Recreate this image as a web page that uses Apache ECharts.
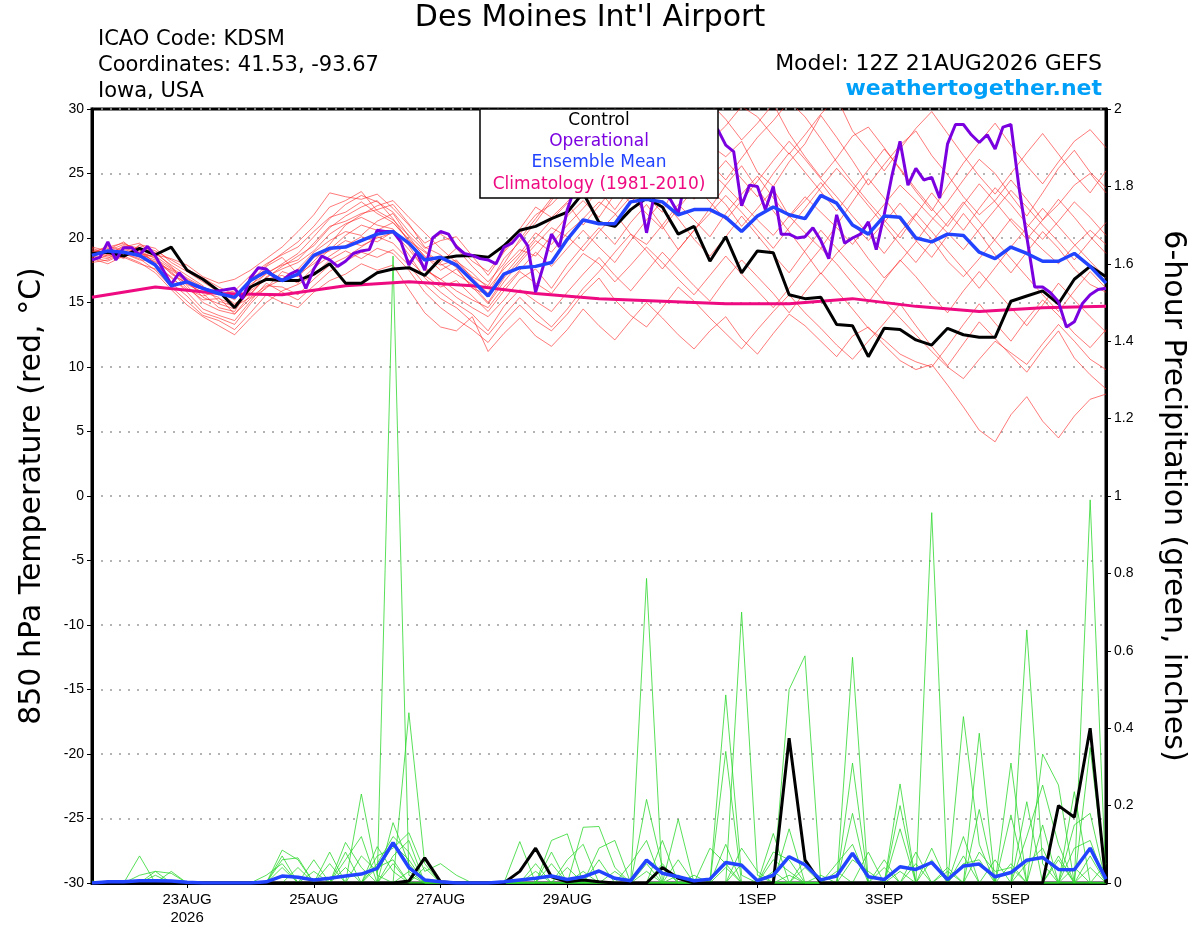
<!DOCTYPE html>
<html>
<head>
<meta charset="utf-8">
<script src="https://cdn.jsdelivr.net/npm/echarts@6/dist/echarts.min.js"></script>
<style>
html,body{margin:0;padding:0;background:#fff;}
#chart{width:1200px;height:927px;}
</style>
</head>
<body>
<div id="chart"></div>
<script>
// ---------------- DATA ----------------
const STEP_MEMBER_H = 6;   // ensemble / control / mean step (hours)
const STEP_OPER_H = 3;     // operational step (hours)
const STEP_CLIMO_H = 24;   // climatology step (hours)

const TICK_HOURS = [36, 84, 132, 180, 252, 300, 348];
const TICK_LABELS = ['23AUG\n2026', '25AUG', '27AUG', '29AUG', '1SEP', '3SEP', '5SEP'];

// 850 hPa temperature, control (deg C), every 6 h
const controlT = [18.8,18.9,18.6,19.2,18.7,19.3,17.5,16.8,15.9,14.6,
  16.2,16.8,16.7,16.7,17.2,18.0,16.5,16.5,17.3,17.6,
  17.7,17.1,18.4,18.6,18.65,18.5,19.4,20.6,20.9,21.5,
  22.0,23.5,21.2,20.9,22.2,23.1,22.4,20.3,20.9,18.2,
  20.1,17.3,19.0,18.85,15.6,15.3,15.4,13.3,13.2,10.8,
  13.0,12.9,12.1,11.7,13.0,12.5,12.3,12.3,15.1,15.5,
  15.9,14.9,16.8,17.8,17.0];

// ensemble mean temperature
const meanT = [18.65,19.0,18.9,18.65,17.9,16.3,16.6,16.1,15.7,15.4,
  16.7,17.4,16.7,17.2,18.65,19.2,19.3,19.8,20.3,20.5,
  19.6,18.3,18.5,17.9,16.7,15.5,17.2,17.7,17.8,18.1,
  19.9,21.4,21.1,21.1,22.8,23.0,22.8,21.8,22.2,22.2,
  21.6,20.5,21.7,22.4,21.8,21.5,23.3,22.7,21.0,20.3,
  21.7,21.6,20.0,19.7,20.3,20.2,18.9,18.4,19.3,18.8,
  18.2,18.2,18.8,17.8,16.5];

// operational temperature, every 3 h
const operT = [18.3,18.5,19.7,18.3,19.25,19.25,18.7,19.35,18.6,17.5,
  16.4,17.3,16.6,16.3,16.1,15.9,15.9,16.0,16.1,15.3,
  16.9,17.7,17.6,17.0,16.7,17.2,17.5,16.1,17.6,18.6,
  18.3,17.8,18.2,18.8,19.0,19.1,20.6,20.5,20.5,19.7,
  17.9,18.9,17.5,20.0,20.5,20.3,19.3,18.8,18.65,18.4,
  18.3,18.0,19.3,19.6,20.3,19.4,15.8,17.9,20.3,19.3,
  22.2,24.0,25.0,24.5,24.0,25.2,24.3,23.8,23.1,23.8,
  20.4,23.4,23.5,23.0,21.9,24.8,26.0,27.5,28.9,28.4,
  27.2,26.7,22.5,24.1,24.0,22.2,24.0,20.3,20.3,20.0,
  20.1,20.8,19.8,18.4,21.8,19.6,20.0,20.3,21.25,19.1,
  21.8,24.9,27.5,24.1,25.4,24.5,24.7,23.1,27.3,28.8,
  28.8,28.0,27.4,28.0,26.9,28.6,28.8,24.0,20.1,16.2,
  16.2,15.75,15.05,13.1,13.5,14.9,15.6,16.0,16.1];

// climatology (1981-2010), daily
const climoT = [15.4,16.2,15.7,15.6,16.3,16.6,16.3,15.7,15.3,15.1,14.9,14.9,15.3,14.7,14.3,14.6,14.7];

// ensemble members, temperature
const memT01 = [18.9,19.3,19.6,19.0,18.4,17.6,16.8,16.1,15.8,15.5,16.4,17.2,18.0,18.8,20.1,21.5,22.6,23.3,22.8,22.0,20.5,19.2,19.8,20.1,18.6,17.1,18.9,20.3,21.8,22.6,23.9,25.2,26.1,27.4,26.5,28.1,29.3,28.0,29.6,27.2,26.3,27.5,25.1,24.0,25.9,27.3,29.5,27.8,26.0,24.1,25.7,27.2,28.3,26.4,24.9,23.2,21.8,22.9,24.5,23.0,21.4,22.6,24.1,25.0,23.5];
const memT02 = [18.5,18.2,18.8,18.4,17.5,16.2,15.1,14.0,13.6,12.9,14.2,15.6,15.0,14.6,15.8,16.7,17.2,18.0,17.5,17.9,16.0,14.2,13.1,12.8,13.9,11.2,12.6,13.8,12.4,11.6,12.9,14.5,13.2,12.1,13.6,15.0,13.8,12.5,11.4,12.8,13.9,12.2,11.0,12.6,14.1,13.2,12.0,10.8,12.4,13.1,11.7,10.5,9.8,10.2,8.6,6.9,5.1,4.2,6.3,7.7,5.8,4.5,6.2,7.5,7.9];
const memT03 = [19.1,18.7,19.4,19.1,18.0,16.9,16.0,15.5,15.9,15.2,16.9,17.5,16.8,17.6,18.9,19.8,20.5,20.2,21.3,21.9,20.1,18.5,17.9,18.3,16.9,15.7,17.8,19.1,18.6,20.2,21.7,22.9,21.6,23.4,24.8,23.2,22.0,24.5,25.7,23.8,22.6,20.9,22.3,23.8,21.7,20.4,19.2,21.0,22.8,24.6,23.1,21.4,19.8,18.5,20.2,21.9,20.4,18.7,17.3,18.9,20.5,19.2,17.6,16.4,15.8];
const memT04 = [18.3,18.9,18.4,19.5,19.2,18.1,17.4,16.6,15.8,14.9,15.7,16.9,17.8,18.6,19.4,20.8,21.7,22.4,22.9,21.5,19.7,17.8,16.5,15.4,14.6,13.9,15.2,16.8,17.6,16.1,17.9,19.4,20.8,19.5,21.2,22.6,20.9,19.1,20.6,22.3,24.1,25.6,23.8,22.1,20.5,18.9,17.2,18.8,20.1,18.4,16.9,18.2,19.7,21.4,22.8,24.5,26.1,25.0,23.3,21.7,23.5,25.4,26.8,25.1,23.9];
const memT05 = [18.7,19.2,18.9,18.6,18.9,17.8,16.3,15.0,14.4,14.1,15.3,16.1,17.4,17.0,18.2,19.5,21.0,21.8,22.5,22.9,21.6,20.4,19.2,18.1,17.0,16.3,18.4,19.7,21.2,22.9,24.6,23.1,25.0,26.8,28.5,27.1,25.4,26.9,28.8,30.5,29.2,27.6,28.9,30.4,28.1,26.3,24.7,26.2,27.9,28.6,27.0,25.3,23.6,22.1,24.0,25.8,27.4,28.9,27.2,25.6,24.2,25.9,27.5,28.4,27.0];
const memT06 = [18.4,18.0,18.6,18.1,17.3,16.0,14.8,13.9,13.2,12.5,13.8,15.0,15.9,16.4,17.1,18.3,19.0,18.4,19.2,18.8,17.5,15.8,14.6,13.7,12.9,11.9,13.5,14.8,13.6,12.8,14.1,15.7,16.9,15.2,14.0,13.1,14.6,16.2,15.1,13.8,12.6,11.4,12.9,14.3,15.6,14.2,13.0,11.7,10.6,12.0,13.4,14.9,13.2,11.6,10.1,11.8,13.5,12.2,10.9,9.6,11.3,12.8,10.7,9.4,8.3];
const memT07 = [19.0,18.6,19.1,18.8,18.5,17.2,16.5,15.7,14.6,14.3,16.2,17.8,18.5,17.2,18.0,19.1,20.2,21.0,20.6,21.2,19.8,18.9,18.0,17.2,16.4,15.0,16.9,18.3,19.8,18.9,20.4,21.5,22.8,21.9,20.3,19.5,21.0,22.6,21.4,20.1,21.9,23.4,24.8,23.1,21.6,22.9,24.3,22.7,21.1,19.8,21.2,22.7,21.3,19.9,18.2,17.0,18.4,19.9,21.5,20.3,19.1,18.0,19.4,20.6,19.5];
const memT08 = [18.8,19.4,19.0,18.5,18.7,18.4,17.9,17.0,16.5,16.8,17.5,18.4,19.3,20.5,21.8,23.5,23.2,23.0,23.4,22.3,21.0,19.6,20.3,19.5,18.2,17.4,19.0,20.7,22.4,21.6,22.8,24.3,23.5,25.1,26.7,25.5,27.2,28.6,27.0,25.8,24.5,26.2,27.8,29.1,30.6,29.4,27.7,25.9,24.3,22.8,21.4,20.0,21.8,23.5,22.0,20.6,22.3,23.9,22.6,21.1,19.9,21.3,22.8,21.6,20.2];
const memT09 = [18.6,18.4,19.2,18.9,18.1,17.5,16.7,15.4,14.9,14.5,15.9,16.8,17.1,16.5,17.7,18.6,19.4,20.1,19.7,20.5,19.1,17.6,16.8,15.9,15.2,14.6,16.2,17.5,18.9,17.8,19.2,20.6,19.3,18.1,19.8,21.4,22.9,21.5,19.9,18.6,20.1,21.7,20.2,18.7,17.3,19.0,20.6,19.2,17.8,16.5,15.1,13.8,12.5,11.2,10.0,9.1,10.6,12.0,11.1,10.2,11.8,13.3,12.0,10.6,9.8];
const memT10 = [19.3,19.0,19.5,19.2,18.8,17.9,17.1,16.3,15.1,14.7,15.4,16.3,16.2,15.6,16.8,17.9,18.5,19.3,20.1,19.6,18.3,17.1,16.2,16.7,15.5,14.3,15.9,17.4,16.5,15.7,17.3,18.8,18.0,16.6,17.9,19.3,18.1,16.8,15.6,17.1,18.6,17.2,15.9,14.6,16.1,17.7,19.2,18.0,16.5,15.0,16.7,18.3,17.0,15.5,14.2,15.9,17.4,16.0,14.6,13.2,14.8,16.5,15.2,13.9,12.7];
const memT11 = [18.9,18.5,18.7,19.4,19.0,18.3,17.6,16.9,16.2,15.6,16.6,17.9,18.8,19.7,20.9,22.4,22.9,23.6,22.1,21.4,20.2,19.0,18.1,19.2,17.8,16.6,18.0,19.9,21.5,23.1,25.8,27.4,29.0,30.6,29.3,27.6,28.9,30.8,29.1,27.5,28.7,30.2,29.4,27.9,26.5,28.0,29.6,30.9,28.3,26.8,25.2,26.9,28.5,29.8,28.1,26.4,24.8,23.4,25.0,26.6,28.1,26.5,24.9,23.5,25.2];
const memT12 = [18.2,18.7,18.5,18.0,17.6,16.5,15.5,14.2,13.8,13.3,14.9,16.2,16.8,17.5,18.5,19.0,19.8,19.4,20.0,20.4,18.7,16.9,15.8,14.9,14.1,12.8,14.7,16.0,15.1,14.3,15.8,17.2,18.5,17.1,15.9,17.4,18.9,17.6,16.3,15.1,16.8,18.3,17.0,15.7,14.2,15.8,17.3,15.9,14.5,13.0,12.1,11.0,10.4,10.0,11.6,13.3,14.9,13.4,12.0,13.7,15.2,14.0,12.6,11.5,12.9];
const memT13 = [18.5,19.1,19.7,18.7,18.3,17.4,16.1,15.2,15.3,14.8,16.0,17.3,17.9,18.3,19.6,20.9,21.3,21.9,22.2,22.6,21.1,19.3,18.7,17.7,16.1,15.6,17.1,18.6,20.0,21.4,22.7,21.0,22.5,24.0,22.7,24.2,25.9,24.4,23.0,24.6,26.0,24.6,23.2,25.0,26.6,25.1,23.6,22.1,23.7,25.3,26.9,25.4,23.8,22.3,20.9,22.6,24.2,22.8,21.3,19.9,21.4,23.0,21.6,20.1,18.8];
const memT14 = [18.1,18.3,18.9,18.6,17.9,17.0,15.8,14.5,14.0,13.6,15.1,16.5,15.8,15.2,16.3,17.4,18.2,18.9,18.5,19.1,17.9,16.4,15.3,14.6,13.5,12.5,14.0,15.4,14.2,13.1,14.5,16.1,17.4,18.9,20.3,19.0,17.6,19.1,20.6,21.9,23.3,22.0,20.6,19.2,20.8,22.3,23.9,25.4,24.0,22.5,21.0,19.5,18.1,19.7,21.2,22.8,21.3,19.8,18.4,17.0,15.6,14.3,15.9,17.4,16.1];
const memT15 = [19.2,18.8,19.3,19.6,18.6,17.7,16.9,16.2,15.6,15.9,17.1,18.0,18.7,19.3,20.5,21.6,22.0,22.8,21.9,21.2,19.9,18.6,17.5,18.2,17.3,16.1,17.6,18.8,20.4,19.5,21.0,22.3,23.7,22.2,23.9,25.3,26.9,25.6,24.1,22.8,21.4,22.9,24.4,26.0,27.5,26.1,24.6,23.2,21.7,20.3,18.8,20.4,21.9,20.5,19.0,17.6,16.1,17.7,19.3,20.8,22.3,20.9,19.5,18.2,16.9];
const memT16 = [18.6,19.0,18.8,18.3,18.2,17.3,16.4,15.8,15.4,14.1,15.6,17.0,17.6,18.1,19.0,20.3,21.1,21.6,21.0,20.7,19.4,17.5,16.8,17.6,16.2,14.9,16.6,18.1,19.5,20.8,20.1,19.0,20.5,21.8,23.2,21.9,20.7,22.3,23.8,25.2,24.0,22.7,21.4,20.2,21.7,23.2,22.0,20.8,19.5,21.1,22.6,24.1,22.9,21.6,20.4,19.1,20.7,22.2,23.7,22.4,21.0,19.7,18.3,19.8,21.2];
const MEMBERS_T = [memT01,memT02,memT03,memT04,memT05,memT06,memT07,memT08,memT09,memT10,memT11,memT12,memT13,memT14,memT15,memT16];

// 6-hour precipitation (inches)
const controlP = [0,0,0,0,0,0,0,0,0,0, 0,0,0,0,0,0,0,0,0,0,
  0.005,0.065,0.003,0,0,0,0,0.03,0.09,0.016,
  0.003,0.008,0.003,0,0,0,0.04,0.012,0,0,
  0,0,0,0,0.374,0.06,0,0,0,0,
  0,0,0,0,0,0,0,0,0,0,
  0,0.2,0.17,0.40,0];
const meanP = [0,0.003,0.003,0.006,0.006,0.005,0.002,0,0,0,
  0,0.003,0.018,0.015,0.008,0.012,0.018,0.023,0.038,0.104,
  0.04,0.008,0.003,0,0,0,0.003,0.008,0.012,0.018,
  0.009,0.016,0.031,0.012,0.006,0.059,0.025,0.016,0.006,0.010,
  0.053,0.046,0.006,0.02,0.068,0.047,0.008,0.018,0.077,0.016,
  0.009,0.042,0.035,0.053,0.009,0.044,0.049,0.016,0.027,0.059,
  0.066,0.035,0.034,0.09,0.01];

const memP01 = [0,0,0,0.07,0,0,0,0,0,0, 0,0,0.085,0.06,0,0,0,0,0,1.62, 0.02,0,0,0,0,0,0,0,0,0, 0,0,0,0,0,0.787,0,0,0,0, 0,0,0,0,0.50,0.587,0,0,0,0, 0,0,0,0.957,0,0,0,0,0,0, 0,0,0,0.99,0];
const memP02 = [0,0,0,0,0.03,0.025,0,0,0,0, 0,0,0,0,0,0,0.105,0.04,0,0, 0.44,0.05,0,0,0,0,0,0,0.05,0, 0,0,0,0,0,0,0,0,0,0, 0.486,0.02,0,0,0,0,0,0,0.583,0, 0,0,0,0,0,0,0,0,0,0.654, 0.05,0,0,0,0];
const memP03 = [0,0,0,0.02,0.03,0,0,0,0,0, 0,0,0.07,0,0.03,0,0,0.23,0.02,0, 0,0,0,0,0,0,0,0,0,0, 0,0.144,0.146,0.04,0,0,0,0,0,0, 0,0.70,0.02,0,0,0,0,0,0,0, 0,0.256,0,0,0,0.43,0.10,0,0,0, 0,0,0,0.35,0];
const memP04 = [0,0,0,0,0,0.03,0,0,0,0, 0,0,0.06,0.065,0,0.08,0,0,0.094,0.03, 0,0,0,0,0,0,0,0.107,0,0, 0,0,0,0,0,0.216,0.04,0,0,0, 0.34,0,0,0,0,0,0,0,0.31,0, 0,0,0,0,0,0,0.387,0,0,0, 0.333,0.253,0,0,0];
const memP05 = [0,0,0,0,0,0,0,0,0,0, 0,0.02,0.05,0,0,0,0.06,0.12,0,0.156, 0.05,0,0,0,0,0,0,0,0,0.11, 0.127,0,0,0,0,0,0,0.165,0,0, 0,0,0,0,0.14,0,0,0,0,0, 0,0.20,0,0,0,0,0,0,0.31,0, 0,0,0.236,0,0];
const memP06 = [0,0,0,0,0.02,0,0,0,0,0, 0,0,0,0.04,0,0.05,0,0,0.07,0.09, 0.13,0.03,0.05,0.02,0,0,0,0,0,0, 0,0,0.09,0.11,0,0,0,0,0,0, 0,0,0,0.128,0,0.06,0,0,0.18,0, 0,0,0.05,0,0,0,0.19,0,0,0.12, 0.253,0.10,0,0,0];
const memP07 = [0,0,0,0,0,0,0,0,0,0, 0,0,0.04,0,0.06,0,0.08,0,0.05,0.12, 0.08,0,0,0,0,0,0,0,0,0, 0.06,0.10,0,0,0,0,0.11,0,0,0.09, 0.05,0,0,0.08,0.06,0,0,0,0,0.08, 0,0,0,0.09,0,0.12,0,0,0.176,0, 0,0,0.15,0.18,0];
const memP08 = [0,0,0,0,0,0,0,0,0,0, 0,0,0,0,0,0,0,0.07,0.03,0.10, 0.06,0,0,0,0,0,0,0,0,0.08, 0,0,0,0,0.05,0.11,0,0.06,0,0, 0,0.09,0.03,0,0,0,0,0.05,0.10,0, 0,0.14,0,0,0.03,0,0,0.06,0,0.21, 0,0.07,0,0,0.05];
const memP09 = [0,0,0,0,0,0,0,0,0,0, 0,0,0,0,0,0,0.04,0,0,0.07, 0.11,0,0,0,0,0,0,0,0.03,0, 0,0,0.06,0,0,0.05,0,0,0,0, 0.10,0,0,0.06,0.03,0,0.02,0,0,0, 0.04,0,0.08,0,0,0.05,0.06,0,0,0, 0.15,0,0.09,0.11,0];
const memP10 = [0,0,0,0,0,0,0,0,0,0, 0,0,0,0,0,0,0,0,0.04,0.06, 0,0,0,0,0,0,0,0,0,0, 0,0,0,0.03,0,0,0.05,0,0.02,0, 0,0,0,0,0,0.04,0,0,0.06,0.03, 0,0,0,0.06,0,0,0.08,0.03,0.04,0, 0,0.06,0,0.07,0];
const memP11 = [0,0,0,0,0,0,0,0,0,0, 0,0,0,0,0,0,0,0,0,0.05, 0,0.04,0,0,0,0,0,0,0,0, 0.04,0,0,0,0,0.03,0,0,0,0, 0,0.05,0,0,0.02,0,0,0.03,0,0, 0,0.03,0,0,0,0.07,0,0,0,0.05, 0.09,0,0.04,0,0];
const memP12 = [0.005,0,0,0,0,0,0,0,0,0, 0,0,0,0,0,0,0,0,0,0, 0.03,0,0,0,0,0,0,0,0,0.05, 0,0.03,0,0,0,0,0,0.02,0,0, 0.04,0,0,0.03,0,0,0,0,0,0, 0.06,0,0,0,0.04,0,0,0,0.05,0, 0,0,0,0.04,0];
const MEMBERS_P = [memP01,memP02,memP03,memP04,memP05,memP06,memP07,memP08,memP09,memP10,memP11,memP12];

// ---------------- CHART ----------------
const FONT = '"Liberation Sans", Arial, Helvetica, sans-serif';
const WIDE = '"DejaVu Sans", "Liberation Sans", sans-serif';
const C_RED = 'rgba(255,45,45,0.8)';
const C_GREEN = '#2fd82f';
const C_CONTROL = '#000000';
const C_OPER = '#7a00e0';
const C_MEAN = '#2244ff';
const C_CLIMO = '#ee0a80';

function toXY(arr, step) { return arr.map((v, i) => [i * step, v]); }

const series = [];
MEMBERS_T.forEach((m, k) => series.push({
  name: 'memT' + k, type: 'line', yAxisIndex: 0, data: toXY(m, STEP_MEMBER_H),
  symbol: 'none', lineStyle: { color: C_RED, width: 0.8 }, z: 2, silent: true
}));
MEMBERS_P.forEach((m, k) => series.push({
  name: 'memP' + k, type: 'line', yAxisIndex: 1, data: toXY(m, STEP_MEMBER_H),
  symbol: 'none', lineStyle: { color: C_GREEN, width: 0.8 }, z: 3, silent: true
}));
series.push({ name: 'Climatology', type: 'line', yAxisIndex: 0, data: toXY(climoT, STEP_CLIMO_H),
  symbol: 'none', lineStyle: { color: C_CLIMO, width: 3 }, z: 4 });
series.push({ name: 'ControlP', type: 'line', yAxisIndex: 1, data: toXY(controlP, STEP_MEMBER_H),
  symbol: 'none', lineStyle: { color: C_CONTROL, width: 3 }, z: 5 });
series.push({ name: 'MeanP', type: 'line', yAxisIndex: 1, data: toXY(meanP, STEP_MEMBER_H),
  symbol: 'none', lineStyle: { color: C_MEAN, width: 3.5 }, z: 6 });
series.push({ name: 'Control', type: 'line', yAxisIndex: 0, data: toXY(controlT, STEP_MEMBER_H),
  symbol: 'none', lineStyle: { color: C_CONTROL, width: 3 }, z: 5 });
series.push({ name: 'Operational', type: 'line', yAxisIndex: 0, data: toXY(operT, STEP_OPER_H),
  symbol: 'none', lineStyle: { color: C_OPER, width: 3 }, z: 6 });
series.push({ name: 'Ensemble Mean', type: 'line', yAxisIndex: 0, data: toXY(meanT, STEP_MEMBER_H),
  symbol: 'none', lineStyle: { color: C_MEAN, width: 3.5 }, z: 7 });

const chart = echarts.init(document.getElementById('chart'), null, { renderer: 'canvas' });
chart.setOption({
  animation: false,
  backgroundColor: '#ffffff',
  textStyle: { fontFamily: FONT },
  grid: { left: 92, right: 94, top: 109, bottom: 44, show: true, borderColor: '#000', borderWidth: 3, backgroundColor: 'transparent' },
  xAxis: {
    type: 'value', min: 0, max: 384,
    axisLine: { show: true, onZero: false, lineStyle: { color: '#000', width: 3 } },
    axisTick: { show: true, customValues: TICK_HOURS, length: 5, lineStyle: { color: '#000', width: 1 } },
    axisLabel: {
      customValues: TICK_HOURS, color: '#000', fontSize: 15, fontFamily: FONT, margin: 8, lineHeight: 18,
      formatter: (v) => { const k = TICK_HOURS.indexOf(Math.round(v)); return k >= 0 ? TICK_LABELS[k] : ''; }
    },
    splitLine: { show: false }
  },
  yAxis: [
    {
      type: 'value', min: -30, max: 30, interval: 5, position: 'left',
      name: '850 hPa Temperature (red, \u00B0C)', nameLocation: 'middle', nameRotate: 90, nameGap: 45,
      nameTextStyle: { color: '#000', fontSize: 30, fontFamily: WIDE },
      axisLine: { show: true, onZero: false, lineStyle: { color: '#000', width: 3 } },
      axisTick: { show: true, length: 5, lineStyle: { color: '#000', width: 1 } },
      axisLabel: { color: '#000', fontSize: 14, fontFamily: FONT, margin: 8 },
      splitLine: { show: true, lineStyle: { color: '#9a9a9a', width: 1.5, type: [2, 7] } }
    },
    {
      type: 'value', min: 0, max: 2, interval: 0.2, position: 'right',
      name: '6-hour Precipitation (green, inches)', nameLocation: 'middle', nameRotate: -90, nameGap: 52,
      nameTextStyle: { color: '#000', fontSize: 30, fontFamily: WIDE },
      axisLine: { show: true, onZero: false, lineStyle: { color: '#000', width: 3 } },
      axisTick: { show: true, length: 5, lineStyle: { color: '#000', width: 1 } },
      axisLabel: { color: '#000', fontSize: 14, fontFamily: FONT, margin: 8, formatter: (v) => String(+v.toFixed(1)) },
      splitLine: { show: false }
    }
  ],
  series: series,
  graphic: [
    { type: 'text', x: 590, y: 18, style: { text: "Des Moines Int'l Airport", fill: '#000', font: '30px ' + WIDE, textAlign: 'center', textVerticalAlign: 'middle' } },
    { type: 'text', x: 98, y: 40, style: { text: 'ICAO Code: KDSM', fill: '#000', font: '21px ' + WIDE, textAlign: 'left', textVerticalAlign: 'middle' } },
    { type: 'text', x: 98, y: 66, style: { text: 'Coordinates: 41.53, -93.67', fill: '#000', font: '21px ' + WIDE, textAlign: 'left', textVerticalAlign: 'middle' } },
    { type: 'text', x: 98, y: 92, style: { text: 'Iowa, USA', fill: '#000', font: '21px ' + WIDE, textAlign: 'left', textVerticalAlign: 'middle' } },
    { type: 'text', x: 1102, y: 64, style: { text: 'Model: 12Z 21AUG2026 GEFS', fill: '#000', font: '22px ' + WIDE, textAlign: 'right', textVerticalAlign: 'middle' } },
    { type: 'text', x: 1102, y: 89, style: { text: 'weathertogether.net', fill: '#00a0f8', font: 'bold 22px ' + WIDE, textAlign: 'right', textVerticalAlign: 'middle' } },
    {
      type: 'group', x: 480, y: 109, z: 100,
      children: [
        { type: 'rect', shape: { x: 0, y: 0, width: 238, height: 89 }, style: { fill: '#fff', stroke: '#000', lineWidth: 1.5 }, z: 100 },
        { type: 'text', x: 119, y: 12, style: { text: 'Control', fill: C_CONTROL, font: '17px ' + WIDE, textAlign: 'center', textVerticalAlign: 'middle' }, z: 101 },
        { type: 'text', x: 119, y: 33, style: { text: 'Operational', fill: C_OPER, font: '17px ' + WIDE, textAlign: 'center', textVerticalAlign: 'middle' }, z: 101 },
        { type: 'text', x: 119, y: 54, style: { text: 'Ensemble Mean', fill: C_MEAN, font: '17px ' + WIDE, textAlign: 'center', textVerticalAlign: 'middle' }, z: 101 },
        { type: 'text', x: 119, y: 76, style: { text: 'Climatology (1981-2010)', fill: C_CLIMO, font: '17px ' + WIDE, textAlign: 'center', textVerticalAlign: 'middle' }, z: 101 }
      ]
    }
  ]
});
</script>
</body>
</html>
